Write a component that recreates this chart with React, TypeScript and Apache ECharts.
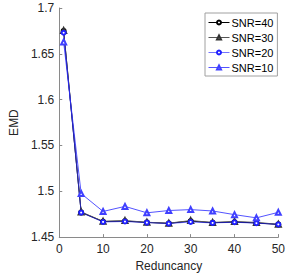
import React, { useEffect, useRef } from "react";
import * as echarts from "echarts";

const redundancy = [1, 5, 10, 15, 20, 25, 30, 35, 40, 45, 50];
const snr40 = [1.675, 1.477, 1.467, 1.4675, 1.466, 1.465, 1.4675, 1.4657, 1.4665, 1.4655, 1.4638];
const snr30 = [1.6755, 1.4775, 1.4672, 1.468, 1.4662, 1.4652, 1.468, 1.466, 1.467, 1.466, 1.464];
const snr20 = [1.673, 1.4768, 1.4665, 1.467, 1.4658, 1.4648, 1.4665, 1.4655, 1.4662, 1.4652, 1.4638];
const snr10 = [1.663, 1.4975, 1.478, 1.4835, 1.4765, 1.479, 1.48, 1.4785, 1.4745, 1.471, 1.477];
const seriesNames = ["SNR=40", "SNR=30", "SNR=20", "SNR=10"];

const FONT = "Liberation Sans, Arial, Helvetica, sans-serif";

export default function App() {
  const ref = useRef<HTMLDivElement>(null);
  useEffect(() => {
    document.body.style.margin = "0";
    const chart = echarts.init(ref.current!, null, { renderer: "svg" });
    const pairs = (ys: number[]) => redundancy.map((x, i) => [x, ys[i]]);
    const mk = (
      name: string,
      ys: number[],
      lineColor: string,
      symbol: string,
      symColor: string,
      size: number
    ) => ({
      name,
      type: "line",
      data: pairs(ys),
      symbol,
      symbolSize: size,
      showSymbol: true,
      lineStyle: { color: lineColor, width: 1 },
      itemStyle: { color: symColor, borderColor: symColor, borderWidth: 1 },
      emphasis: { disabled: true },
    });
    chart.setOption({
      animation: false,
      backgroundColor: "#ffffff",
      textStyle: { fontFamily: FONT },
      grid: { left: 43, right: 6, top: 8, bottom: 34, containLabel: false },
      legend: {
        orient: "vertical",
        left: 205,
        top: 13,
        width: 69,
        data: seriesNames,
        itemWidth: 21,
        itemHeight: 5,
        itemGap: 4,
        padding: [4, 4, 3, 3],
        borderColor: "#a0a0a0",
        borderWidth: 1,
        backgroundColor: "#ffffff",
        lineStyle: { width: 1 },
        itemStyle: { borderWidth: 1 },
        textStyle: { fontFamily: FONT, fontSize: 11, color: "#000", padding: [0, 0, 0, -3] },
      },
      xAxis: {
        type: "value",
        min: 0,
        max: 50,
        interval: 10,
        name: "Reduncancy",
        nameLocation: "middle",
        nameGap: 20,
        nameTextStyle: { fontFamily: FONT, fontSize: 12, color: "#262626" },
        axisLine: { show: true, lineStyle: { color: "#8a8a8a", width: 1 } },
        axisTick: { show: true, inside: true, length: 3, lineStyle: { color: "#8a8a8a" } },
        axisLabel: { fontFamily: FONT, fontSize: 12, color: "#262626", margin: 6 },
        splitLine: { show: false },
      },
      yAxis: {
        type: "value",
        min: 1.45,
        max: 1.7,
        interval: 0.05,
        name: "EMD",
        nameLocation: "middle",
        nameGap: 33,
        nameRotate: 90,
        nameTextStyle: { fontFamily: FONT, fontSize: 12, color: "#262626" },
        axisLine: { show: true, lineStyle: { color: "#8a8a8a", width: 1 } },
        axisTick: { show: true, inside: true, length: 3, lineStyle: { color: "#8a8a8a" } },
        axisLabel: {
          fontFamily: FONT,
          fontSize: 12,
          color: "#262626",
          margin: 5,
          formatter: (v: number) => String(parseFloat(v.toFixed(2))),
        },
        splitLine: { show: false },
      },
      series: [
        mk(seriesNames[0], snr40, "#000000", "emptyCircle", "#000000", 4),
        mk(seriesNames[1], snr30, "#555555", "emptyTriangle", "#333333", 5),
        mk(seriesNames[2], snr20, "rgba(0,0,255,0.55)", "emptyCircle", "#2020ff", 4),
        mk(seriesNames[3], snr10, "rgba(40,40,255,0.8)", "emptyTriangle", "#4040ff", 5),
      ],
    });
    return () => chart.dispose();
  }, []);
  return <div ref={ref} style={{ width: 288, height: 277 }} />;
}
